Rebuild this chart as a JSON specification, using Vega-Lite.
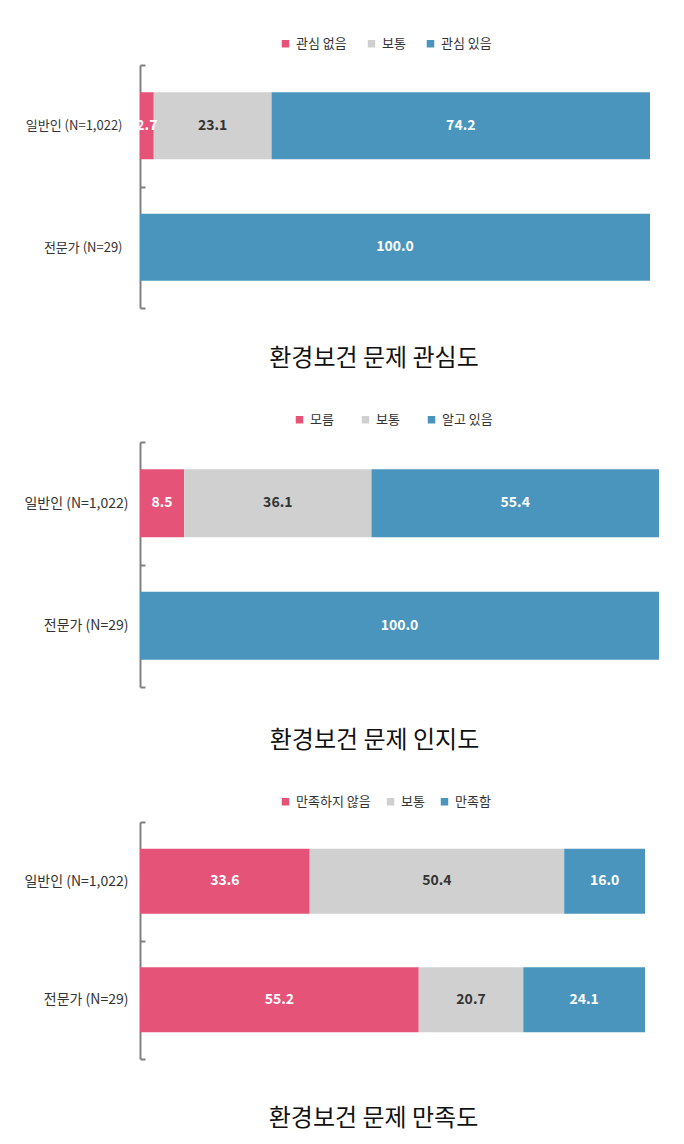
{
  "$schema": "https://vega.github.io/schema/vega-lite/v6.json",
  "padding": {"top": 37, "left": 23, "right": 5, "bottom": 5},
  "spacing": 42,
  "config": {
    "view": {"stroke": null},
    "font": "Noto Sans CJK KR",
    "axis": {"labelFont": "Noto Sans CJK KR"},
    "legend": {"labelFont": "Noto Sans CJK KR", "padding": 0}
  },
  "resolve": {
    "scale": {"color": "independent", "x": "independent", "y": "independent"},
    "legend": {"color": "independent"}
  },
  "vconcat": [
    {
      "width": 510,
      "height": 243,
      "title": {"text": "환경보건 문제 관심도", "orient": "bottom", "fontSize": 24, "fontWeight": "normal", "color": "#111", "offset": 38, "dx": -21},
      "data": {"values": [
        {"group": "일반인 (N=1,022)", "cat": "관심 없음", "order": 1, "value": 2.7},
        {"group": "일반인 (N=1,022)", "cat": "보통", "order": 2, "value": 23.1},
        {"group": "일반인 (N=1,022)", "cat": "관심 있음", "order": 3, "value": 74.2},
        {"group": "전문가 (N=29)", "cat": "관심 있음", "order": 3, "value": 100.0}
      ]},
      "transform": [
        {"stack": "value", "groupby": ["group"], "sort": [{"field": "order"}], "as": ["v0", "v1"]},
        {"calculate": "(datum.v0 + datum.v1) / 2", "as": "mid"}
      ],
      "encoding": {
        "y": {
          "field": "group", "type": "nominal", "sort": ["일반인 (N=1,022)", "전문가 (N=29)"],
          "scale": {"paddingInner": 0, "paddingOuter": 0},
          "axis": {"title": null, "domainColor": "#808080", "domainWidth": 2, "tickColor": "#808080", "tickWidth": 2, "tickSize": -5, "tickBand": "extent", "labelPadding": 23, "labelFontSize": 13, "labelColor": "#333"}
        }
      },
      "layer": [
        {
          "mark": {"type": "bar", "height": {"band": 0.55}},
          "encoding": {
            "x": {"field": "v0", "type": "quantitative", "scale": {"domain": [0, 100], "nice": false}, "axis": null},
            "x2": {"field": "v1"},
            "color": {
              "field": "cat", "type": "nominal",
              "scale": {"domain": ["관심 없음", "보통", "관심 있음"], "range": ["#E55378", "#D0D0D0", "#4A95BD"]},
              "legend": {"title": null, "orient": "none", "legendX": 139, "legendY": -28, "direction": "horizontal", "symbolType": "square", "symbolSize": 56, "symbolStrokeWidth": 0, "labelFontSize": 13, "labelColor": "#333", "columnPadding": 18}
            }
          }
        },
        {
          "mark": {"type": "text", "fontSize": 14, "fontWeight": "bold"},
          "encoding": {
            "x": {"field": "mid", "type": "quantitative"},
            "text": {"field": "value", "type": "quantitative", "format": ".1f"},
            "color": {"condition": {"test": "datum.cat === '보통'", "value": "#333"}, "value": "#ffffff"}
          }
        }
      ]
    },
    {
      "width": 519,
      "height": 245,
      "title": {"text": "환경보건 문제 인지도", "orient": "bottom", "fontSize": 24, "fontWeight": "normal", "color": "#111", "offset": 41, "dx": -25},
      "data": {"values": [
        {"group": "일반인 (N=1,022)", "cat": "모름", "order": 1, "value": 8.5},
        {"group": "일반인 (N=1,022)", "cat": "보통", "order": 2, "value": 36.1},
        {"group": "일반인 (N=1,022)", "cat": "알고 있음", "order": 3, "value": 55.4},
        {"group": "전문가 (N=29)", "cat": "알고 있음", "order": 3, "value": 100.0}
      ]},
      "transform": [
        {"stack": "value", "groupby": ["group"], "sort": [{"field": "order"}], "as": ["v0", "v1"]},
        {"calculate": "(datum.v0 + datum.v1) / 2", "as": "mid"}
      ],
      "encoding": {
        "y": {
          "field": "group", "type": "nominal", "sort": ["일반인 (N=1,022)", "전문가 (N=29)"],
          "scale": {"paddingInner": 0, "paddingOuter": 0},
          "axis": {"title": null, "domainColor": "#808080", "domainWidth": 2, "tickColor": "#808080", "tickWidth": 2, "tickSize": -5, "tickBand": "extent", "labelPadding": 17, "labelFontSize": 14, "labelColor": "#333"}
        }
      },
      "layer": [
        {
          "mark": {"type": "bar", "height": {"band": 0.555}},
          "encoding": {
            "x": {"field": "v0", "type": "quantitative", "scale": {"domain": [0, 100], "nice": false}, "axis": null},
            "x2": {"field": "v1"},
            "color": {
              "field": "cat", "type": "nominal",
              "scale": {"domain": ["모름", "보통", "알고 있음"], "range": ["#E55378", "#D0D0D0", "#4A95BD"]},
              "legend": {"title": null, "orient": "none", "legendX": 153, "legendY": -29, "direction": "horizontal", "symbolType": "square", "symbolSize": 56, "symbolStrokeWidth": 0, "labelFontSize": 13, "labelColor": "#333", "columnPadding": 25}
            }
          }
        },
        {
          "mark": {"type": "text", "fontSize": 14, "fontWeight": "bold"},
          "encoding": {
            "x": {"field": "mid", "type": "quantitative"},
            "text": {"field": "value", "type": "quantitative", "format": ".1f"},
            "color": {"condition": {"test": "datum.cat === '보통'", "value": "#333"}, "value": "#ffffff"}
          }
        }
      ]
    },
    {
      "width": 505,
      "height": 237,
      "title": {"text": "환경보건 문제 만족도", "orient": "bottom", "fontSize": 24, "fontWeight": "normal", "color": "#111", "offset": 47, "dx": -19},
      "data": {"values": [
        {"group": "일반인 (N=1,022)", "cat": "만족하지 않음", "order": 1, "value": 33.6},
        {"group": "일반인 (N=1,022)", "cat": "보통", "order": 2, "value": 50.4},
        {"group": "일반인 (N=1,022)", "cat": "만족함", "order": 3, "value": 16.0},
        {"group": "전문가 (N=29)", "cat": "만족하지 않음", "order": 1, "value": 55.2},
        {"group": "전문가 (N=29)", "cat": "보통", "order": 2, "value": 20.7},
        {"group": "전문가 (N=29)", "cat": "만족함", "order": 3, "value": 24.1}
      ]},
      "transform": [
        {"stack": "value", "groupby": ["group"], "sort": [{"field": "order"}], "as": ["v0", "v1"]},
        {"calculate": "(datum.v0 + datum.v1) / 2", "as": "mid"}
      ],
      "encoding": {
        "y": {
          "field": "group", "type": "nominal", "sort": ["일반인 (N=1,022)", "전문가 (N=29)"],
          "scale": {"paddingInner": 0, "paddingOuter": 0},
          "axis": {"title": null, "domainColor": "#808080", "domainWidth": 2, "tickColor": "#808080", "tickWidth": 2, "tickSize": -5, "tickBand": "extent", "labelPadding": 17, "labelFontSize": 14, "labelColor": "#333"}
        }
      },
      "layer": [
        {
          "mark": {"type": "bar", "height": {"band": 0.55}},
          "encoding": {
            "x": {"field": "v0", "type": "quantitative", "scale": {"domain": [0, 100], "nice": false}, "axis": null},
            "x2": {"field": "v1"},
            "color": {
              "field": "cat", "type": "nominal",
              "scale": {"domain": ["만족하지 않음", "보통", "만족함"], "range": ["#E55378", "#D0D0D0", "#4A95BD"]},
              "legend": {"title": null, "orient": "none", "legendX": 139, "legendY": -27, "direction": "horizontal", "symbolType": "square", "symbolSize": 56, "symbolStrokeWidth": 0, "labelFontSize": 13, "labelColor": "#333", "columnPadding": 13}
            }
          }
        },
        {
          "mark": {"type": "text", "fontSize": 14, "fontWeight": "bold"},
          "encoding": {
            "x": {"field": "mid", "type": "quantitative"},
            "text": {"field": "value", "type": "quantitative", "format": ".1f"},
            "color": {"condition": {"test": "datum.cat === '보통'", "value": "#333"}, "value": "#ffffff"}
          }
        }
      ]
    }
  ]
}
